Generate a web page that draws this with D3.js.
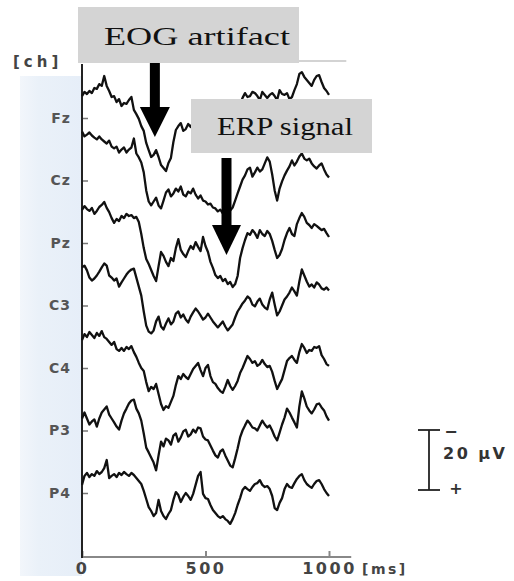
<!DOCTYPE html>
<html>
<head>
<meta charset="utf-8">
<title>EEG channels</title>
<script src="https://d3js.org/d3.v7.min.js"></script>
<style>
body { margin: 0; background: #fff; }
svg { display: block; }
.lbl { font-family: "DejaVu Sans", sans-serif; font-weight: bold; fill: #444; }
.note { font-family: "Liberation Serif", serif; fill: #111; }
.trace { fill: none; stroke: #111; stroke-width: 2.3px; stroke-linejoin: round; }
</style>
</head>
<body>
<svg id="chart"></svg>
<script>
var width = 514, height = 581;

// channels top to bottom, samples every 10 ms from 0 to 1000 ms
var channels = ["Fz", "Cz", "Pz", "C3", "C4", "P3", "P4"];
var sampleMs = d3.range(0, 1001, 10);
var timeTicks = [0, 500, 1000];
var barUv = 20;

// amplitudes in uV, negative drawn upwards
var fz = [-7.3,-8.7,-8.0,-9.0,-8.3,-10.0,-9.7,-11.3,-10.7,-14.0,
  -10.7,-9.0,-7.0,-7.3,-5.3,-6.3,-4.0,-5.0,-4.7,-6.0,
  -7.0,-2.7,-1.3,0.3,2.7,4.3,8.3,10.7,13.0,12.3,
  10.7,13.0,15.7,16.7,17.7,15.0,13.3,8.0,4.0,2.7,
  1.7,4.3,3.7,2.0,3.0,1.3,0.7,-0.7,-1.0,0.3,
  1.0,2.0,2.7,3.0,3.7,3.3,4.3,3.3,2.3,1.3,
  0.3,-0.7,-2.0,-3.3,-4.7,-6.7,-8.3,-7.0,-7.3,-8.7,
  -8.3,-7.3,-6.0,-8.7,-7.7,-6.7,-7.7,-8.3,-7.3,-6.0,
  -9.3,-8.0,-7.7,-8.3,-6.3,-7.0,-9.3,-11.3,-14.7,-15.3,
  -13.7,-12.7,-11.7,-10.7,-12.7,-14.0,-14.3,-12.0,-10.0,-9.0,
  -7.7];
var cz = [-16.3,-14.7,-15.3,-16.0,-15.0,-14.3,-13.7,-14.7,-13.7,-13.0,
  -12.3,-13.3,-11.3,-10.7,-11.3,-9.3,-10.3,-11.0,-9.3,-10.3,
  -11.0,-14.0,-9.0,-7.7,-6.0,-2.7,3.3,7.0,8.3,7.0,
  5.7,8.3,9.3,6.7,4.0,3.0,5.3,4.3,2.7,3.7,
  2.0,4.7,5.3,3.7,4.3,2.7,4.7,6.0,5.0,6.7,
  7.0,8.0,7.7,9.0,9.3,10.3,9.7,11.0,10.7,11.3,
  10.0,9.0,6.7,4.3,2.0,-0.3,-1.7,-3.7,-4.3,-1.3,
  -2.7,-4.3,-3.0,-3.7,-5.7,-7.7,-6.3,-2.0,3.3,6.7,
  2.7,0.3,-1.7,-3.3,-4.7,-6.7,-5.0,-6.3,-8.0,-9.0,
  -7.3,-6.7,-7.3,-5.7,-4.7,-4.0,-5.0,-5.7,-3.7,-2.0,
  -1.0];
var pz = [-11.0,-12.3,-11.3,-10.7,-11.7,-9.7,-10.7,-12.0,-12.7,-13.7,
  -11.7,-10.3,-8.3,-6.7,-8.0,-7.3,-9.0,-8.3,-9.7,-9.0,
  -9.3,-8.3,-8.7,-7.0,-3.0,1.7,5.3,7.0,9.0,11.0,
  12.7,7.7,3.0,4.3,6.3,7.7,5.0,6.0,1.7,-1.3,
  2.3,3.7,4.7,2.7,1.0,2.0,-0.3,1.3,2.7,-2.0,
  1.0,3.0,6.3,8.3,10.7,11.7,11.0,12.7,12.0,13.7,
  13.0,14.7,13.7,11.0,5.0,1.7,-1.0,-3.3,-2.7,-4.3,
  -3.3,-1.7,-4.3,-3.0,-2.3,-4.0,-3.0,-0.7,2.3,5.0,
  4.0,2.0,-1.0,-3.3,-5.0,-3.0,-2.3,-6.3,-8.3,-10.0,
  -8.7,-6.7,-6.0,-5.0,-6.3,-5.7,-5.0,-4.3,-4.7,-3.3,
  -2.0];
var c3 = [-12.7,-13.3,-11.7,-9.3,-8.3,-9.0,-10.0,-11.3,-12.7,-14.0,
  -13.3,-10.0,-9.3,-8.3,-9.0,-6.3,-7.7,-9.0,-10.3,-11.3,
  -12.0,-12.3,-9.3,-6.3,-3.3,2.0,6.7,8.7,9.3,8.3,
  5.3,3.7,7.0,8.0,6.0,4.3,6.3,5.3,2.7,2.0,
  4.0,3.0,4.7,5.7,3.7,2.3,1.0,2.0,3.3,4.7,
  4.0,2.7,4.0,5.3,6.3,7.3,6.3,5.3,7.0,8.3,
  7.3,6.3,4.0,2.0,0.7,-0.7,-1.7,-3.0,-2.3,-0.3,
  0.3,-1.3,-2.3,-0.3,0.7,1.3,-2.0,-4.3,-0.3,3.3,
  2.0,0.0,-2.0,-3.0,-4.3,-6.0,-4.7,-3.3,-8.0,-12.0,
  -10.0,-8.0,-6.3,-7.0,-6.0,-7.7,-7.0,-5.7,-5.3,-6.0,
  -5.0];
var c4 = [-9.3,-11.3,-10.3,-12.0,-11.0,-10.0,-11.7,-10.7,-12.3,-10.3,
  -9.7,-8.7,-7.7,-8.7,-6.3,-5.7,-6.7,-5.7,-7.0,-6.3,
  -7.3,-5.3,-3.7,-1.7,0.0,1.0,4.7,7.7,6.3,7.0,
  5.3,8.7,12.0,14.0,12.7,13.3,11.3,9.3,5.7,2.7,
  3.7,2.0,3.0,3.7,2.0,0.3,-0.7,-1.7,0.7,2.7,
  0.0,-1.0,2.7,4.7,5.3,6.7,7.7,8.3,6.3,4.0,
  6.0,7.3,6.0,4.3,1.7,0.0,-2.0,-4.0,-3.0,-1.7,
  -2.3,-0.7,-1.3,-2.7,-1.3,-0.3,-0.7,1.3,4.3,7.0,
  5.3,3.7,0.7,-2.3,-3.3,-4.0,-2.7,-1.7,-5.3,-8.0,
  -6.7,-5.0,-6.0,-5.7,-7.0,-6.7,-7.3,-4.3,-3.0,-1.3,
  -0.7];
var p3 = [-4.0,-6.0,-4.0,-2.0,-3.0,-3.7,-1.3,-4.0,-6.0,-7.0,
  -8.0,-5.3,-4.0,-2.7,-1.3,-0.3,-3.3,-5.7,-7.3,-9.0,
  -10.0,-10.3,-7.3,-5.7,-3.3,1.0,5.7,7.3,9.0,10.7,
  13.3,8.3,3.7,5.3,2.7,3.3,4.7,1.7,1.0,3.7,
  2.3,0.3,-0.3,2.0,1.3,-0.3,0.7,-1.0,-0.7,2.0,
  3.0,3.3,5.0,6.7,8.3,9.0,7.0,6.3,8.3,10.0,
  11.7,12.3,9.3,6.0,2.3,0.0,-1.7,-3.3,-2.3,-1.0,
  -0.7,0.0,-1.7,-3.3,-2.0,-1.0,-1.7,0.0,2.0,3.3,
  0.7,-2.0,-4.3,-7.3,-6.0,-4.3,-2.7,-1.0,-8.0,-13.0,
  -10.7,-8.0,-6.7,-5.7,-7.0,-8.7,-9.0,-7.7,-6.7,-4.7,
  -3.3];
var p4 = [-2.7,-5.7,-6.7,-5.3,-6.3,-5.7,-7.3,-6.3,-7.0,-8.3,
  -11.0,-5.0,-5.7,-6.3,-5.3,-6.7,-6.0,-7.0,-6.3,-5.7,
  -6.7,-6.0,-5.0,-4.0,-3.0,-0.7,2.0,4.7,6.0,7.7,
  6.7,2.3,6.0,7.7,8.7,7.0,5.7,2.3,-0.3,0.7,
  3.0,1.3,0.0,1.0,2.3,0.3,-2.7,-5.7,-7.0,0.3,
  1.7,2.0,4.0,5.7,6.7,7.7,8.3,7.7,8.7,9.3,
  10.3,8.7,6.7,4.0,1.7,-1.0,-2.0,-1.3,-0.7,-2.0,
  -3.0,-3.3,-4.3,-2.7,-2.0,-2.3,-1.3,1.0,5.0,5.7,
  3.3,1.7,-1.3,-3.0,-2.0,-1.7,-3.3,-4.7,-5.7,-6.3,
  -4.3,-3.0,-2.3,-1.7,-3.0,-4.0,-4.3,-3.0,-1.3,0.0,
  1.0];
var traces = [fz, cz, pz, c3, c4, p3, p4];

// annotations: label, time of the arrow (ms)
var notes = [
  {text: "EOG artifact", ms: 295},
  {text: "ERP signal", ms: 585}
];

var svg = d3.select("#chart")
  .attr("width", width)
  .attr("height", height);

var x = d3.scaleLinear().domain([0, 1000]).range([82, 329]);
var ch = d3.scalePoint().domain(channels).range([118, 493]);
var amp = d3.scaleLinear().domain([0, barUv]).range([0, 60]);

// pale blue band behind the channel names
var grad = svg.append("defs").append("linearGradient")
  .attr("id", "band").attr("x1", 0).attr("x2", 1);
grad.append("stop").attr("offset", 0).attr("stop-color", "#f2f6fb");
grad.append("stop").attr("offset", 0.3).attr("stop-color", "#eaf1f9");
grad.append("stop").attr("offset", 1).attr("stop-color", "#e6eef8");
svg.append("rect")
  .attr("x", 20).attr("y", 76)
  .attr("width", 62).attr("height", 500)
  .attr("fill", "url(#band)");

// top frame line
svg.append("line")
  .attr("x1", x(0)).attr("x2", x(1070))
  .attr("y1", 61).attr("y2", 61)
  .attr("stroke", "#c4c4c4").attr("stroke-width", 1.5);

// x axis
var xAxis = svg.append("g")
  .attr("transform", "translate(0,557)")
  .call(d3.axisBottom(x).tickValues(timeTicks).tickFormat(d3.format("d"))
    .tickSizeInner(-6).tickSizeOuter(0).tickPadding(6));
xAxis.select(".domain").remove();
xAxis.selectAll(".tick line").attr("stroke", "#888").attr("stroke-width", 2);
xAxis.selectAll(".tick text")
  .attr("class", "lbl")
  .style("font-size", "16px")
  .style("letter-spacing", "2.5px");
xAxis.append("line")
  .attr("x1", x(0)).attr("x2", x(1090))
  .attr("stroke", "#888").attr("stroke-width", 2);

// y axis (channels)
var yAxis = svg.append("g")
  .attr("transform", "translate(82,0)")
  .call(d3.axisLeft(ch).tickSizeInner(-6).tickSizeOuter(0).tickPadding(11));
yAxis.select(".domain").remove();
yAxis.selectAll(".tick line").attr("stroke", "#777").attr("stroke-width", 1.5);
yAxis.selectAll(".tick text")
  .attr("class", "lbl")
  .style("font-size", "14px")
  .style("letter-spacing", "1px")
  .style("fill", "#555");
svg.append("line")
  .attr("x1", 82).attr("x2", 82)
  .attr("y1", 64).attr("y2", 558)
  .attr("stroke", "#222").attr("stroke-width", 2);

svg.append("text").attr("class", "lbl")
  .attr("x", 13).attr("y", 67)
  .style("font-size", "15px").style("letter-spacing", "4px")
  .text("[ch]");
svg.append("text").attr("class", "lbl")
  .attr("x", 362).attr("y", 574)
  .style("font-size", "14px").style("letter-spacing", "2.5px")
  .text("[ms]");

// traces
var line = d3.line()
  .x(function(d, i) { return x(sampleMs[i]); })
  .y(function(d) { return d; });

svg.append("g").selectAll("path")
  .data(traces)
  .enter().append("path")
  .attr("class", "trace")
  .attr("d", function(d, k) {
    var base = ch(channels[k]);
    return line(d.map(function(v) { return base + amp(v); }));
  });

// scale bar
var bar = svg.append("g").attr("transform", "translate(429,430)");
bar.append("line").attr("y1", 0).attr("y2", amp(barUv))
  .attr("stroke", "#222").attr("stroke-width", 1.8);
bar.selectAll(".cap")
  .data([0, barUv])
  .enter().append("line")
  .attr("x1", -11).attr("x2", 11)
  .attr("y1", function(d) { return amp(d); })
  .attr("y2", function(d) { return amp(d); })
  .attr("stroke", "#222").attr("stroke-width", 1.8);
bar.append("text").attr("class", "lbl")
  .attr("x", 22).attr("y", 7).attr("text-anchor", "middle")
  .style("font-size", "16px").style("fill", "#333")
  .text("\u2212");
bar.append("text").attr("class", "lbl")
  .attr("x", 14).attr("y", 29)
  .style("font-size", "16px").style("letter-spacing", "2.5px").style("fill", "#333")
  .text("20 \u03bcV");
bar.append("text").attr("class", "lbl")
  .attr("x", 27).attr("y", 64).attr("text-anchor", "middle")
  .style("font-size", "16px").style("fill", "#333")
  .text("+");

// annotation boxes and arrows
var boxes = [
  {x: 78, y: 7, w: 221, h: 56, tx: 104, ty: 45, len: 186, top: 63, head: 107, tip: 137, hw: 15},
  {x: 191, y: 99, w: 181, h: 54, tx: 217, ty: 135, len: 136, top: 158, head: 225, tip: 255, hw: 14.5}
];
notes.forEach(function(n, i) {
  var b = boxes[i], cx = x(n.ms);
  var g = svg.append("g");
  g.append("rect")
    .attr("x", b.x).attr("y", b.y).attr("width", b.w).attr("height", b.h)
    .attr("fill", "#d4d4d4");
  g.append("text").attr("class", "note")
    .attr("x", b.tx).attr("y", b.ty)
    .attr("textLength", b.len).attr("lengthAdjust", "spacingAndGlyphs")
    .style("font-size", "26px")
    .text(n.text);
  g.append("rect")
    .attr("x", cx - 5).attr("y", b.top)
    .attr("width", 10).attr("height", b.head - b.top)
    .attr("fill", "#000");
  g.append("path")
    .attr("d", "M" + (cx - b.hw) + "," + b.head + "L" + (cx + b.hw) + "," + b.head + "L" + cx + "," + b.tip + "Z")
    .attr("fill", "#000");
});
</script>
</body>
</html>
